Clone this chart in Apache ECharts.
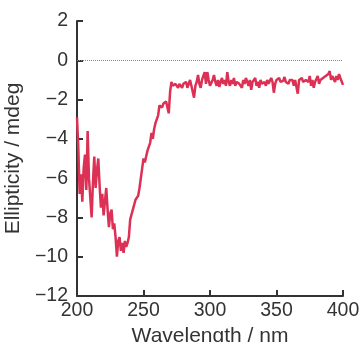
<!DOCTYPE html>
<html>
<head>
<meta charset="utf-8">
<script src="https://cdn.jsdelivr.net/npm/echarts@6/dist/echarts.min.js"></script>
<style>html,body{margin:0;padding:0;background:#fff}#c{width:363px;height:342px}</style>
</head>
<body>
<div id="c"></div>
<script>
const wavelengths = [];
for (let w = 200; w <= 400; w++) wavelengths.push(w);
const ellipticity = [
-2.9,-4.5,-6.8,-5.8,-7.2,-5.5,-4.8,-6.6,-3.6,-6.0,
-7.0,-8.0,-6.2,-4.9,-6.5,-5.6,-5.0,-6.4,-7.5,-6.8,
-7.9,-7.2,-6.5,-7.6,-8.5,-7.8,-7.6,-8.6,-8.3,-9.0,
-10.0,-9.2,-9.0,-9.7,-9.3,-9.8,-9.2,-9.5,-9.3,-9.0,
-8.1,-8.0,-7.6,-7.6,-7.1,-7.0,-6.9,-6.5,-6.4,-5.5,
-5.0,-5.2,-4.9,-4.6,-4.5,-4.2,-3.7,-4.0,-3.5,-3.2,
-3.1,-2.8,-2.3,-2.2,-2.4,-2.2,-2.3,-2.1,-2.4,-2.7,
-1.6,-1.1,-1.3,-1.4,-1.2,-1.3,-1.4,-1.2,-1.3,-1.4,
-1.2,-1.3,-1.1,-1.4,-1.2,-1.0,-1.3,-1.6,-1.9,-1.3,
-1.1,-0.75,-1.2,-1.4,-1.0,-0.8,-0.6,-1.2,-0.6,-1.0,
-1.3,-1.25,-1.0,-0.75,-1.1,-1.3,-1.0,-1.35,-1.1,-0.9,
-1.2,-1.0,-1.3,-0.6,-1.1,-1.3,-1.0,-1.2,-0.9,-1.3,
-1.1,-1.0,-1.2,-1.1,-1.4,-1.0,-1.2,-0.9,-1.1,-1.3,
-1.0,-1.5,-1.1,-1.2,-0.9,-1.3,-1.1,-1.4,-1.0,-1.2,
-1.2,-1.1,-1.3,-1.0,-1.2,-1.1,-0.9,-1.1,-1.65,-1.2,
-1.0,-1.1,-0.9,-1.1,-1.0,-1.05,-0.85,-1.1,-1.0,-1.2,
-1.0,-1.1,-1.0,-1.3,-1.0,-1.1,-1.7,-1.0,-1.1,-0.9,
-1.1,-1.0,-1.0,-0.9,-1.1,-0.8,-1.3,-1.0,-1.4,-1.1,
-1.0,-0.8,-1.2,-1.0,-1.1,-0.9,-1.0,-0.8,-0.9,-0.7,
-0.55,-1.0,-0.8,-0.9,-1.1,-0.8,-1.0,-0.7,-0.9,-1.0,
-1.25
];
const xTicks = [200, 250, 300, 350, 400];
const yTicks = [-12, -10, -8, -6, -4, -2, 0, 2];

const chart = echarts.init(document.getElementById('c'), null, {renderer: 'canvas'});
const font = 'Liberation Sans, Arial, Helvetica, sans-serif';
const axisColor = '#333';
chart.setOption({
  animation: false,
  grid: {left: 77, right: 20, top: 21, bottom: 46, containLabel: false, outerBoundsMode: 'none'},
  xAxis: {
    type: 'value', min: xTicks[0], max: xTicks[xTicks.length-1], interval: 50,
    name: 'Wavelength / nm', nameLocation: 'middle', nameGap: 23,
    nameTextStyle: {fontFamily: font, fontSize: 21, color: axisColor},
    axisLine: {show: true, onZero: false, lineStyle: {color: axisColor, width: 2}},
    axisTick: {show: true, inside: true, length: 6, lineStyle: {color: axisColor, width: 2}},
    axisLabel: {fontFamily: font, fontSize: 19.5, color: axisColor, margin: 5},
    splitLine: {show: false}
  },
  yAxis: {
    type: 'value', min: yTicks[0], max: yTicks[yTicks.length-1], interval: 2,
    name: 'Ellipticity / mdeg', nameLocation: 'middle', nameGap: 41,
    nameTextStyle: {fontFamily: font, fontSize: 21, color: axisColor},
    axisLine: {show: true, onZero: false, lineStyle: {color: axisColor, width: 2}},
    axisTick: {show: true, inside: true, length: 6, lineStyle: {color: axisColor, width: 2}},
    axisLabel: {fontFamily: font, fontSize: 19.5, color: axisColor, margin: 9,
      formatter: v => String(v).replace('-', '\u2212')},
    splitLine: {show: false}
  },
  series: [{
    type: 'line',
    data: wavelengths.map((w, i) => [w, ellipticity[i]]),
    showSymbol: false,
    lineStyle: {color: '#dc3055', width: 2.5},
    markLine: {
      silent: true, symbol: 'none', label: {show: false},
      lineStyle: {color: '#888', type: 'dotted', width: 1},
      data: [{yAxis: 0}]
    }
  }]
});
</script>
</body>
</html>
